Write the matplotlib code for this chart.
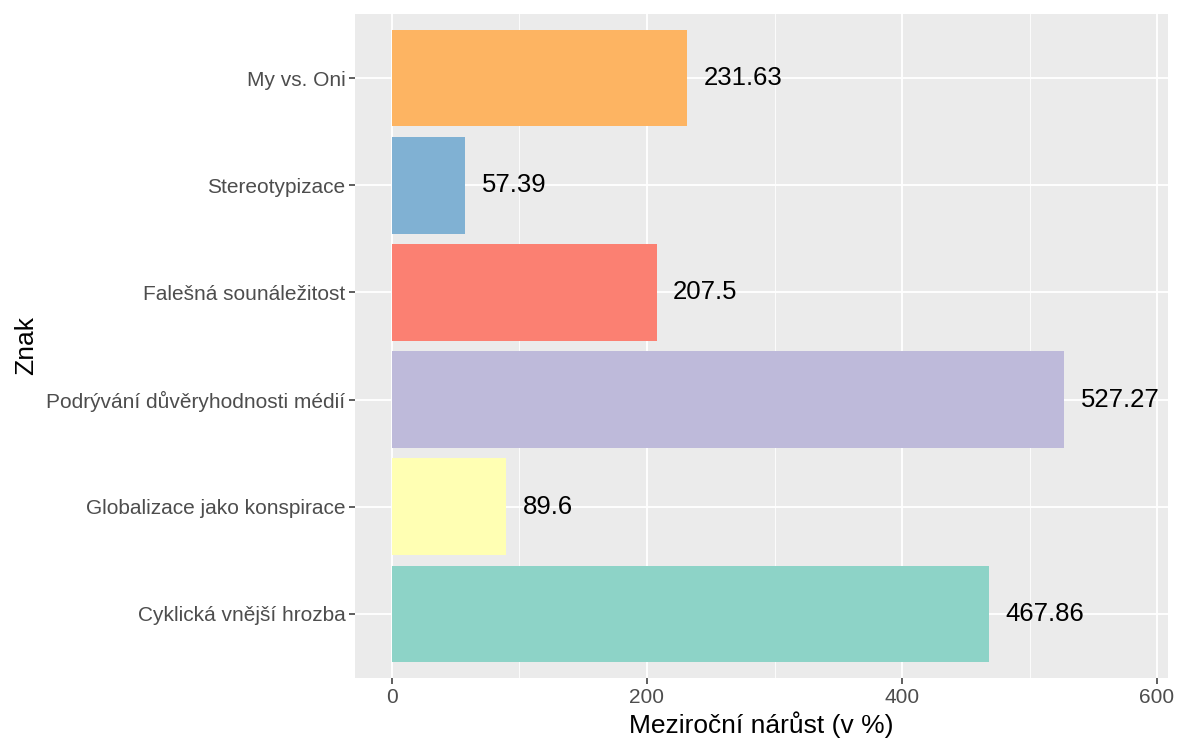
import matplotlib
matplotlib.use("Agg")
import matplotlib.pyplot as plt
from matplotlib.ticker import MultipleLocator

plt.rcParams['font.family'] = ['Liberation Sans', 'DejaVu Sans']

categories = ["Cyklická vnější hrozba", "Globalizace jako konspirace",
              "Podrývání důvěryhodnosti médií", "Falešná sounáležitost",
              "Stereotypizace", "My vs. Oni"]
values = [467.86, 89.6, 527.27, 207.5, 57.39, 231.63]
labels = ["467.86", "89.6", "527.27", "207.5", "57.39", "231.63"]
colors = ["#8DD3C7", "#FFFFB3", "#BEBADA", "#FB8072", "#80B1D3", "#FDB462"]
xticks = [0, 200, 400, 600]

fig = plt.figure(figsize=(11.82, 7.40), dpi=100)
ax = fig.add_axes([355/1182, 1-678/740, (1168-355)/1182, (678-14)/740])
ax.set_facecolor("#EBEBEB")
ypos = list(range(1, len(categories)+1))
ax.barh(ypos, values, height=0.9, color=colors, zorder=3)
for y, v, t in zip(ypos, values, labels):
    ax.annotate(t, (v, y), xytext=(12, 0), textcoords="offset points",
                ha="left", va="center", fontsize=18.5, color="black", zorder=4)

ax.set_xlim(-29, 608.6)
ax.set_ylim(0.4, 6.6)
ax.set_xticks(xticks)
ax.xaxis.set_minor_locator(MultipleLocator(100))
ax.set_yticks(ypos)
ax.set_yticklabels(categories)
ax.grid(which="major", color="white", linewidth=1.3, zorder=0)
ax.grid(which="minor", axis="x", color="white", linewidth=0.6, zorder=0)
ax.set_axisbelow(True)
for s in ax.spines.values():
    s.set_visible(False)
ax.tick_params(axis="both", which="major", length=4, width=1.1, color="#333333",
               labelsize=15, labelcolor="#4D4D4D", pad=3)
ax.tick_params(axis="both", which="minor", length=0)
ax.set_xlabel("Meziroční nárůst (v %)", fontsize=19, color="black", labelpad=3)
ax.set_ylabel("Znak", fontsize=19, color="black", labelpad=6)

fig.savefig("out.png", dpi=100, facecolor="white")
